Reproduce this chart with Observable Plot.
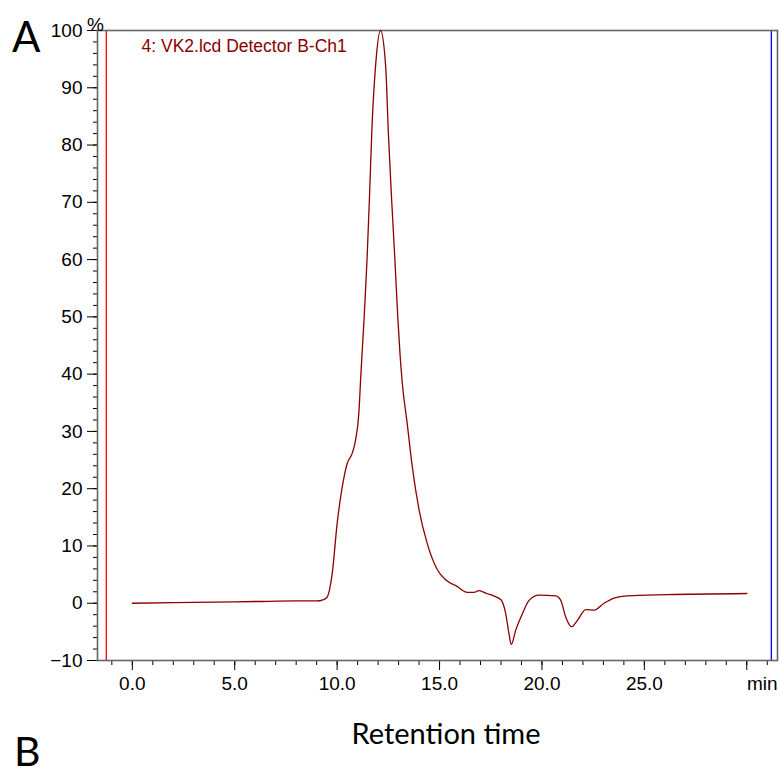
<!DOCTYPE html>
<html>
<head>
<meta charset="utf-8">
<script src="https://cdn.jsdelivr.net/npm/d3@7"></script>
<script src="https://cdn.jsdelivr.net/npm/@observablehq/plot@0.6"></script>
<style>
  html, body { margin: 0; padding: 0; background: #fff; }
  #wrap { position: relative; width: 780px; height: 774px; overflow: hidden; }
  #chart { position: absolute; left: 0; top: 0; }
  .big { position: absolute; font-family: Lato, "Open Sans", sans-serif; line-height: 1; color: #000; }
</style>
</head>
<body>
<div id="wrap">
  <div id="chart"></div>
  <div class="big" style="left:12px; top:15px; font-size:42px;">A</div>
  <div class="big" style="left:14px; top:735px; font-size:41px; line-height:0.8;">B</div>
  <div class="big" style="left:0; width:892px; text-align:center; top:718px; font-size:29px;">Retention time</div>
</div>
<script>
// Retention time (min) and detector response (%)
const time = [0.0, 2.0, 4.0, 6.0, 8.0, 9.0, 9.3, 9.5, 9.76, 10.0, 10.25, 10.49, 10.74, 10.9, 11.06, 11.16,
  11.32, 11.46, 11.58, 11.7, 11.88, 12.12, 12.37, 12.5, 12.66, 12.82, 12.96, 13.07, 13.18, 13.42, 13.67, 14.0, 14.4, 14.9,
  15.3, 15.87, 16.36, 16.68, 16.93, 17.3, 17.7, 18.0, 18.23, 18.39, 18.5, 18.72, 19.05, 19.37, 19.86,
  20.67, 20.92, 21.16, 21.44, 21.73, 22.14, 22.55, 23.03, 23.52, 24.17, 26.1, 30.0];
const signal = [0.0, 0.1, 0.2, 0.3, 0.4, 0.4, 0.6, 1.0, 5.2, 13.9, 20.3, 24.4, 26.2, 28.5, 33.2, 40,
  50, 60, 71, 83, 94, 100, 93.7, 82.2, 70.5, 60, 50, 43.5, 38.5, 31.4, 23.8, 16.3, 10.4, 5.8,
  4.1, 2.9, 1.9, 1.9, 2.2, 1.7, 1.2, 0.6, -1.8, -5.3, -7.2, -4.7, -1.8, 0.5, 1.4,
  1.3, 0.5, -2.4, -4.1, -3.0, -1.1, -1.2, 0.0, 0.9, 1.3, 1.5, 1.7];

// Instrument markers (start / end of acquisition window)
const markerTimes = [-1.27, 31.2];
const markerColors = ["#ff0000", "#0000ff"];

// Axis ticks
const xMajor = [0, 5, 10, 15, 20, 25, 30];
const xLabels = ["0.0", "5.0", "10.0", "15.0", "20.0", "25.0", ""];
const xMinor = d3.range(-1, 32, 1);
const yMajor = [-10, 0, 10, 20, 30, 40, 50, 60, 70, 80, 90, 100];
const yMinor = d3.range(-10, 101, 2);

const traceName = "4: VK2.lcd Detector B-Ch1";
const xUnit = "min";
const yUnit = "%";

const data = time.map((t, i) => ({t, v: signal[i]}));
const markers = markerTimes.map((t, i) => ({t, c: markerColors[i]}));

const font = "'Liberation Sans', Arial, sans-serif";

const chart = Plot.plot({
  width: 780,
  height: 700,
  marginLeft: 97,
  marginRight: 3,
  marginTop: 30,
  marginBottom: 40,
  style: {fontFamily: font, fontSize: "19px", color: "#000", background: "#fff"},
  x: {domain: [-1.7, 31.5]},
  y: {domain: [-10, 100]},
  marks: [
    Plot.ruleX(markers, {x: "t", stroke: "c", strokeWidth: 1.3}),
    Plot.axisY({ticks: yMinor, tickSize: 4, tickFormat: () => "", label: null, stroke: "#000"}),
    Plot.axisY({ticks: yMajor, tickSize: 10, tickPadding: 5, label: null, stroke: "#000", fontSize: 19}),
    Plot.axisX({ticks: xMinor, tickSize: 5, tickFormat: () => "", label: null, stroke: "#000"}),
    Plot.axisX({ticks: xMajor, tickSize: 10, tickPadding: 6, label: null, stroke: "#000",
      tickFormat: (d) => xLabels[xMajor.indexOf(d)], fontSize: 19}),
    Plot.frame({stroke: "#666", strokeWidth: 1.6}),
    Plot.line(data, {x: "t", y: "v", stroke: "#8b0000", strokeWidth: 1.3, curve: "monotone-x"}),
    Plot.text([traceName], {frameAnchor: "top-left", dx: 44, dy: 9, textAnchor: "start",
      fill: "#8b0000", fontSize: 17.5}),
    Plot.text([yUnit], {frameAnchor: "top-left", dx: -2, dy: -13, textAnchor: "middle", fontSize: 19}),
    Plot.text([xUnit], {frameAnchor: "bottom-right", dx: 0, dy: 29, textAnchor: "end", fontSize: 19})
  ]
});
document.getElementById("chart").appendChild(chart);
</script>
</body>
</html>
